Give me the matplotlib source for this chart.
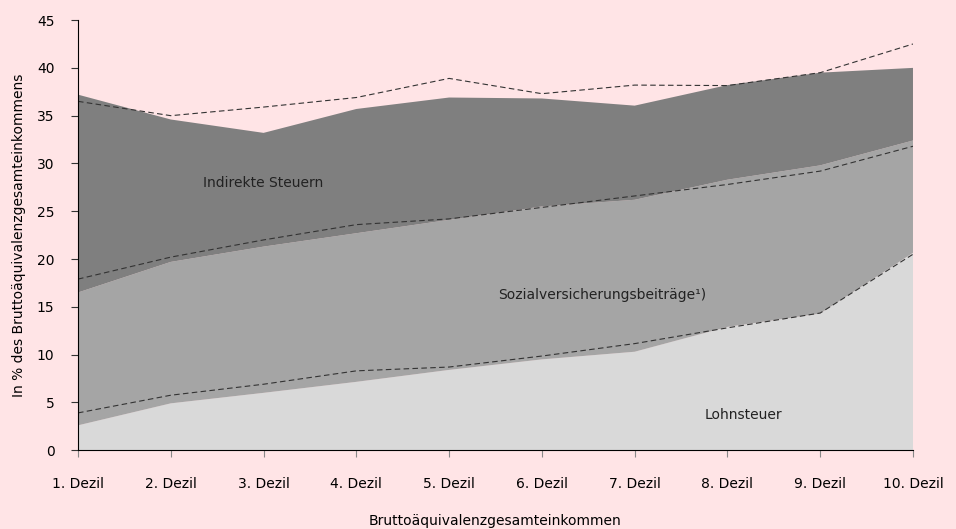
import numpy as np
from matplotlib import pyplot as plt

# Anteil der Abgaben in % des Bruttoäquivalenzgesamteinkommens, nach Dezilen
deciles = ['1. Dezil', '2. Dezil', '3. Dezil', '4. Dezil', '5. Dezil',
           '6. Dezil', '7. Dezil', '8. Dezil', '9. Dezil', '10. Dezil']

# Flächen (kumuliert gelesen, hier als Einzelanteile)
lohnsteuer = [2.6, 4.9, 6.0, 7.15, 8.4, 9.5, 10.3, 12.9, 14.3, 20.65]
sozial_cum = [16.5, 19.7, 21.3, 22.7, 24.1, 25.5, 26.2, 28.3, 29.8, 32.4]
gesamt_cum = [37.2, 34.6, 33.2, 35.7, 36.9, 36.8, 36.05, 38.2, 39.5, 40.0]

# gestrichelte Vergleichslinien (kumuliert)
lohn_dash = [3.9, 5.75, 6.9, 8.3, 8.7, 9.85, 11.15, 12.8, 14.35, 20.5]
sozial_dash = [17.9, 20.2, 22.0, 23.6, 24.2, 25.4, 26.6, 27.8, 29.2, 31.8]
gesamt_dash = [36.5, 35.0, 35.9, 36.9, 38.9, 37.3, 38.2, 38.15, 39.5, 42.5]

sozial = np.array(sozial_cum) - np.array(lohnsteuer)
indirekt = np.array(gesamt_cum) - np.array(sozial_cum)

bg = '#FFE4E6'
x = np.arange(len(deciles))

fig = plt.figure(figsize=(9.56, 5.29), dpi=100, facecolor=bg)
ax = fig.add_axes([0.0816, 0.149, 0.8734, 0.813], facecolor=bg)

ax.stackplot(x, lohnsteuer, sozial, indirekt,
             colors=['#D9D9D9', '#A5A5A5', '#7F7F7F'], linewidth=0)

for line in [lohn_dash, sozial_dash, gesamt_dash]:
    ax.plot(x, line, color='#333333', linewidth=0.8, dashes=(5, 3))

ax.set_xlim(0, 9)
ax.set_ylim(0, 45)
ax.set_yticks(range(0, 46, 5))
ax.set_xticks(x)
ax.set_xticklabels(deciles, fontsize=10)
ax.tick_params(axis='y', labelsize=10, length=5, color='#333333', pad=12)
ax.tick_params(axis='x', length=5, color='#888888', pad=14)

for s in ['top', 'right']:
    ax.spines[s].set_visible(False)

ax.set_ylabel('In % des Bruttoäquivalenzgesamteinkommens', fontsize=10)
ax.yaxis.set_label_coords(-0.062, 0.5)
ax.set_xlabel('Bruttoäquivalenzgesamteinkommen', fontsize=10, labelpad=17)

ax.text(2.0, 28.0, 'Indirekte Steuern', fontsize=10, ha='center', va='center', color='#222222')
ax.text(5.65, 16.2, 'Sozialversicherungsbeiträge¹)', fontsize=10, ha='center', va='center', color='#222222')
ax.text(7.17, 3.7, 'Lohnsteuer', fontsize=10, ha='center', va='center', color='#222222')

plt.savefig('out.png', dpi=100, facecolor=bg)
plt.close()
